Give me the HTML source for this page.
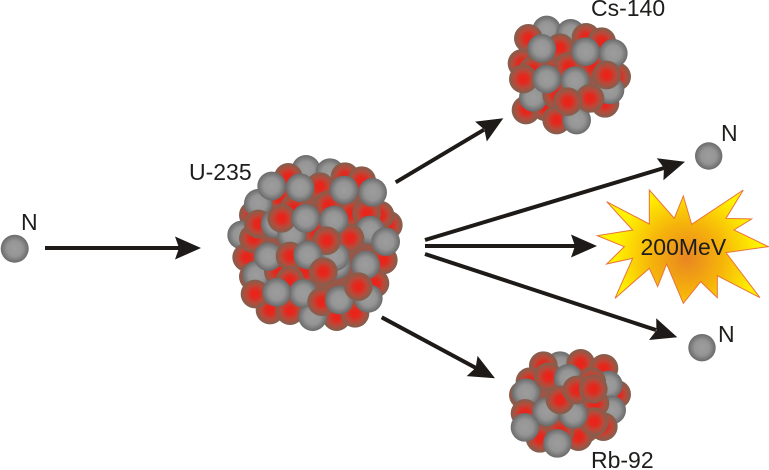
<!DOCTYPE html>
<html>
<head>
<meta charset="utf-8">
<style>
html,body{margin:0;padding:0;background:#fff;}
svg{display:block;}
text{font-family:"Liberation Sans",sans-serif;fill:#1d1d1b;}
.g{fill:url(#gb);}
.r{fill:url(#rb);}
.k{fill:#9a5646;}
</style>
</head>
<body>
<svg width="769" height="470" viewBox="0 0 769 470" xmlns="http://www.w3.org/2000/svg">
<defs>
<radialGradient id="gb"><stop offset="0" stop-color="#9d9d9d"/><stop offset=".55" stop-color="#959595"/><stop offset="1" stop-color="#6a6a6a"/></radialGradient>
<radialGradient id="rb"><stop offset="0" stop-color="#ec2119"/><stop offset=".28" stop-color="#e4281d"/><stop offset=".62" stop-color="#b84a3a"/><stop offset="1" stop-color="#80604f"/></radialGradient>
<radialGradient id="st" gradientUnits="userSpaceOnUse" cx="290" cy="235" r="215"><stop offset="0" stop-color="#e98522"/><stop offset=".5" stop-color="#f6b40a"/><stop offset="1" stop-color="#fff200"/></radialGradient>
</defs>

<!-- U-235 -->
<g transform="translate(220 150) scale(.3333)">
<circle class="k" cx="285" cy="280" r="215"/>
<circle class="g" cx="258" cy="58" r="43"/><circle class="g" cx="330" cy="68" r="43"/><circle class="r" cx="205" cy="82" r="43"/><circle class="r" cx="375" cy="80" r="43"/><circle class="r" cx="425" cy="92" r="43"/><circle class="r" cx="300" cy="110" r="43"/>
<circle class="r" cx="505" cy="225" r="43"/><circle class="r" cx="100" cy="195" r="43"/><circle class="r" cx="180" cy="145" r="43"/><circle class="r" cx="480" cy="195" r="43"/><circle class="r" cx="490" cy="330" r="43"/>
<circle class="g" cx="65" cy="255" r="43"/><circle class="r" cx="80" cy="322" r="43"/><circle class="r" cx="100" cy="380" r="43"/><circle class="r" cx="465" cy="400" r="43"/><circle class="r" cx="150" cy="480" r="43"/><circle class="r" cx="210" cy="482" r="43"/><circle class="r" cx="350" cy="500" r="43"/><circle class="r" cx="405" cy="490" r="43"/><circle class="g" cx="278" cy="500" r="43"/>
<circle class="g" cx="110" cy="375" r="43"/><circle class="r" cx="175" cy="365" r="43"/><circle class="r" cx="255" cy="365" r="43"/><circle class="g" cx="350" cy="345" r="43"/>
<circle class="g" cx="115" cy="160" r="43"/><circle class="r" cx="100" cy="265" r="43"/><circle class="r" cx="115" cy="222" r="43"/><circle class="r" cx="222" cy="175" r="43"/><circle class="r" cx="395" cy="190" r="43"/><circle class="r" cx="440" cy="190" r="43"/><circle class="g" cx="165" cy="222" r="43"/><circle class="r" cx="325" cy="165" r="43"/><circle class="r" cx="290" cy="250" r="43"/>
<circle class="g" cx="450" cy="240" r="43"/><circle class="g" cx="497" cy="275" r="43"/><circle class="r" cx="390" cy="265" r="43"/><circle class="g" cx="215" cy="255" r="43"/>
<circle class="g" cx="155" cy="108" r="43"/><circle class="g" cx="240" cy="113" r="43"/><circle class="g" cx="372" cy="120" r="43"/><circle class="g" cx="458" cy="127" r="43"/>
<circle class="r" cx="185" cy="205" r="43"/><circle class="g" cx="257" cy="205" r="43"/><circle class="g" cx="342" cy="210" r="43"/>
<circle class="g" cx="145" cy="320" r="43"/><circle class="r" cx="210" cy="318" r="43"/><circle class="g" cx="345" cy="320" r="43"/><circle class="r" cx="320" cy="272" r="43"/><circle class="g" cx="263" cy="315" r="43"/><circle class="r" cx="310" cy="365" r="43"/><circle class="r" cx="210" cy="392" r="43"/><circle class="g" cx="437" cy="345" r="43"/>
<circle class="r" cx="105" cy="432" r="43"/><circle class="g" cx="250" cy="430" r="43"/><circle class="g" cx="170" cy="427" r="43"/><circle class="r" cx="305" cy="455" r="43"/><circle class="g" cx="445" cy="445" r="43"/><circle class="g" cx="358" cy="450" r="43"/><circle class="r" cx="415" cy="410" r="43"/>
</g>

<!-- Cs-140 -->
<g transform="translate(500 10) scale(.3333)">
<circle class="k" cx="205" cy="195" r="130"/>
<circle class="g" cx="140" cy="60" r="43"/><circle class="g" cx="212" cy="70" r="43"/><circle class="r" cx="85" cy="85" r="43"/><circle class="r" cx="258" cy="82" r="43"/><circle class="r" cx="305" cy="95" r="43"/><circle class="r" cx="180" cy="113" r="43"/>
<circle class="r" cx="66" cy="160" r="43"/><circle class="r" cx="350" cy="200" r="43"/><circle class="r" cx="100" cy="180" r="43"/><circle class="r" cx="165" cy="185" r="43"/><circle class="r" cx="205" cy="170" r="43"/><circle class="r" cx="280" cy="170" r="43"/>
<circle class="r" cx="78" cy="300" r="43"/><circle class="r" cx="135" cy="290" r="43"/><circle class="g" cx="100" cy="262" r="43"/><circle class="r" cx="170" cy="330" r="43"/><circle class="g" cx="230" cy="330" r="43"/><circle class="r" cx="315" cy="280" r="43"/><circle class="g" cx="330" cy="240" r="43"/><circle class="r" cx="170" cy="255" r="43"/>
<circle class="g" cx="125" cy="115" r="43"/><circle class="g" cx="257" cy="125" r="43"/><circle class="g" cx="340" cy="130" r="43"/><circle class="r" cx="70" cy="207" r="43"/><circle class="g" cx="140" cy="207" r="43"/><circle class="g" cx="225" cy="212" r="43"/><circle class="r" cx="320" cy="195" r="43"/><circle class="r" cx="270" cy="265" r="43"/><circle class="r" cx="203" cy="275" r="43"/>
</g>

<!-- Rb-92 -->
<g transform="translate(500 345) scale(.3333)">
<circle class="k" cx="205" cy="180" r="130"/>
<circle class="g" cx="180" cy="62" r="43"/><circle class="r" cx="130" cy="62" r="43"/><circle class="r" cx="242" cy="55" r="43"/><circle class="r" cx="312" cy="70" r="43"/><circle class="r" cx="90" cy="110" r="43"/><circle class="r" cx="350" cy="148" r="43"/><circle class="g" cx="325" cy="120" r="43"/><circle class="g" cx="335" cy="195" r="43"/>
<circle class="r" cx="70" cy="150" r="43"/><circle class="g" cx="78" cy="143" r="43"/><circle class="r" cx="145" cy="95" r="43"/><circle class="g" cx="205" cy="100" r="43"/><circle class="r" cx="275" cy="110" r="43"/><circle class="r" cx="75" cy="205" r="43"/><circle class="r" cx="120" cy="280" r="43"/><circle class="r" cx="235" cy="275" r="43"/><circle class="r" cx="180" cy="260" r="43"/><circle class="r" cx="310" cy="245" r="43"/><circle class="r" cx="285" cy="175" r="43"/><circle class="r" cx="283" cy="230" r="43"/>
<circle class="g" cx="140" cy="200" r="43"/><circle class="g" cx="220" cy="208" r="43"/><circle class="g" cx="75" cy="247" r="43"/><circle class="g" cx="172" cy="295" r="43"/><circle class="r" cx="180" cy="165" r="43"/><circle class="r" cx="230" cy="135" r="43"/><circle class="r" cx="280" cy="132" r="43"/>
</g>

<!-- neutrons -->
<circle class="g" cx="14.7" cy="248.7" r="14"/>
<circle class="g" cx="708.7" cy="156" r="13.7"/>
<circle class="g" cx="702" cy="347.7" r="13.7"/>

<!-- arrows -->
<g stroke="#1d1a17" stroke-width="4" fill="none">
<line x1="45" y1="248" x2="182" y2="248"/>
<line x1="395.7" y1="182.3" x2="484" y2="129.7"/>
<line x1="425" y1="240" x2="664" y2="168"/>
<line x1="425" y1="246" x2="578" y2="246"/>
<line x1="425" y1="254" x2="656" y2="330"/>
<line x1="381.7" y1="317.3" x2="476" y2="368"/>
</g>
<g fill="#1d1a17">
<polygon transform="translate(201 248)" points="0,0 -26,-11.5 -22,0 -26,11.5"/>
<polygon transform="translate(503.3 118.3) rotate(-30.7)" points="0,0 -26,-11.5 -22,0 -26,11.5"/>
<polygon transform="translate(685 161.7) rotate(-16.8)" points="0,0 -26,-11.5 -22,0 -26,11.5"/>
<polygon transform="translate(597 246)" points="0,0 -26,-11.5 -22,0 -26,11.5"/>
<polygon transform="translate(677.3 337.3) rotate(18.3)" points="0,0 -26,-11.5 -22,0 -26,11.5"/>
<polygon transform="translate(495 378.3) rotate(28.3)" points="0,0 -26,-11.5 -22,0 -26,11.5"/>
</g>

<!-- burst -->
<g transform="translate(590 180) scale(.3333)">
<polygon fill="url(#st)" stroke="#e8733a" stroke-width="3" stroke-linejoin="miter" points="178,30 253,115 280,48 305,133 460,30 408,115 485,117 432,150 535,200 408,218 510,353 382,287 382,353 332,305 280,370 230,252 203,320 178,265 75,355 128,235 50,252 103,200 22,167 128,150 50,65 178,132"/>
</g>

<!-- labels -->
<text x="640.5" y="255" font-size="23">200MeV</text>
<text x="21" y="230" font-size="23">N</text>
<text x="721" y="141" font-size="23">N</text>
<text x="718" y="342" font-size="23">N</text>
<text x="189" y="180" font-size="23">U-235</text>
<text x="591" y="16" font-size="23">Cs-140</text>
<text x="591" y="468" font-size="23">Rb-92</text>
</svg>
</body>
</html>
